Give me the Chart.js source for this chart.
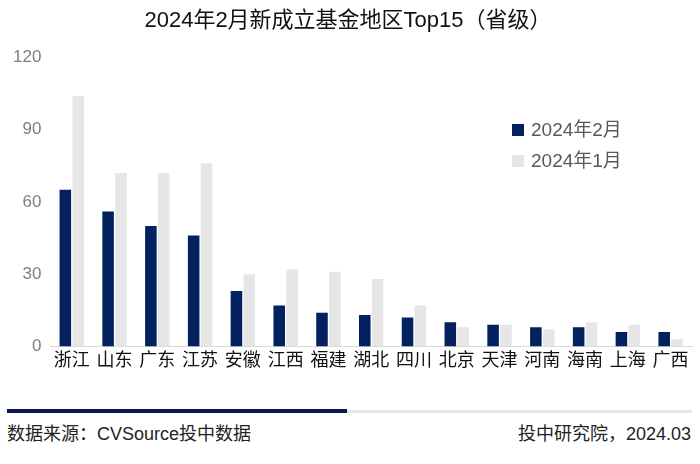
<!DOCTYPE html>
<html>
<head>
<meta charset="utf-8">
<script src="https://cdn.jsdelivr.net/npm/chart.js@4"></script>
<style>
  body { margin: 0; background: #fff; font-family: "Liberation Sans", "Noto Sans CJK SC", sans-serif; }
  #wrap { position: absolute; left: 0; top: 0; width: 700px; height: 376px; }
  #barNavy { position: absolute; left: 7px; top: 409px; width: 340px; height: 4px; background: #0a1650; }
  #barGray { position: absolute; left: 347px; top: 410px; width: 345px; height: 3px; background: #e6e6e6; }
  .foot { position: absolute; top: 419px; font-size: 18px; color: #222; }
</style>
</head>
<body>
<div id="wrap"><canvas id="regionChart"></canvas></div>
<div id="barNavy"></div>
<div id="barGray"></div>
<div class="foot" style="left:7px;">数据来源：CVSource投中数据</div>
<div class="foot" style="right:9px;">投中研究院，2024.03</div>
<script>
// data
const regions = ["浙江", "山东", "广东", "江苏", "安徽", "江西", "福建", "湖北", "四川", "北京", "天津", "河南", "海南", "上海", "广西"];
const feb2024 = [65, 56, 50, 46, 23, 17, 14, 13, 12, 10, 9, 8, 8, 6, 6];
const jan2024 = [104, 72, 72, 76, 30, 32, 31, 28, 17, 8, 9, 7, 10, 9, 3];
const yTicks = [0, 30, 60, 90, 120];

const cjk = '"Liberation Sans", "Noto Sans CJK SC", sans-serif';

// legend drawn inside the plot area, top right
const insideLegend = {
    id: "insideLegend",
    afterDraw(chart) {
        const ctx = chart.ctx;
        ctx.save();
        ctx.font = "19px " + cjk;
        ctx.textBaseline = "middle";
        chart.data.datasets.forEach((ds, i) => {
            const y = 130 + i * 31;
            ctx.fillStyle = ds.backgroundColor;
            ctx.fillRect(512, y - 6, 12, 12);
            ctx.fillStyle = "#595959";
            ctx.fillText(ds.label, 531, y + 1);
        });
        ctx.restore();
    }
};

const canvas = document.getElementById("regionChart");

new Chart(canvas, {
    type: "bar",
    data: {
        labels: regions,
        datasets: [
            {
                label: "2024年2月",
                data: feb2024,
                backgroundColor: "#03215e",
                barPercentage: 0.9,
                categoryPercentage: 0.6
            },
            {
                label: "2024年1月",
                data: jan2024,
                backgroundColor: "#e6e6e6",
                barPercentage: 0.9,
                categoryPercentage: 0.6
            }
        ]
    },
    options: {
        responsive: true,
        maintainAspectRatio: false,
        animation: false,
        layout: { padding: { left: 4, right: 8, top: 0, bottom: 0 } },
        scales: {
            x: {
                grid: { display: false, drawTicks: false },
                border: { color: "#d9d9d9", width: 1 },
                ticks: {
                    color: "#111",
                    font: { size: 18, family: cjk },
                    padding: 4,
                    maxRotation: 0,
                    autoSkip: false
                }
            },
            y: {
                min: 0,
                max: 120,
                afterBuildTicks(axis) {
                    axis.ticks = yTicks.map(v => ({ value: v }));
                },
                grid: { display: false, drawTicks: false },
                border: { display: false },
                ticks: {
                    color: "#7f7f7f",
                    font: { size: 17, family: cjk },
                    padding: 9
                }
            }
        },
        plugins: {
            legend: { display: false },
            tooltip: { enabled: false },
            title: {
                display: true,
                text: "2024年2月新成立基金地区Top15（省级）",
                color: "#111",
                font: { size: 22, weight: "normal", family: cjk },
                padding: { top: 8, bottom: 23 }
            }
        }
    },
    plugins: [insideLegend]
});
</script>
</body>
</html>
